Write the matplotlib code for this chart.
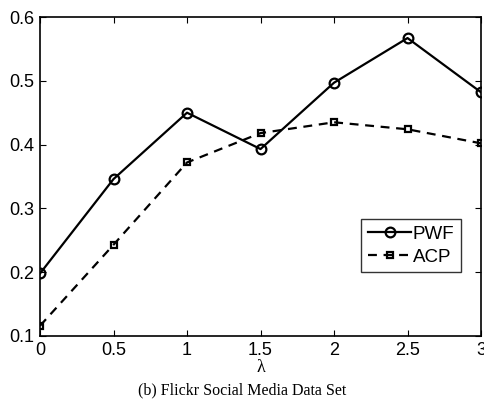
import matplotlib
matplotlib.use('Agg')
import matplotlib.pyplot as plt

lambdas = [0, 0.5, 1, 1.5, 2, 2.5, 3]
pwf = [0.198, 0.346, 0.450, 0.393, 0.497, 0.567, 0.482]
acp = [0.116, 0.243, 0.372, 0.418, 0.435, 0.424, 0.402]

xticks = [0, 0.5, 1, 1.5, 2, 2.5, 3]
xticklabels = ['0', '0.5', '1', '1.5', '2', '2.5', '3']
yticks = [0.1, 0.2, 0.3, 0.4, 0.5, 0.6]
yticklabels = ['0.1', '0.2', '0.3', '0.4', '0.5', '0.6']

plt.rcParams['font.family'] = ['Liberation Sans', 'DejaVu Sans']

fig = plt.figure(figsize=(4.85, 4.0), dpi=100)
ax = fig.add_axes([0.0825, 0.16, 0.9093, 0.7975])

ax.plot(lambdas, pwf, color='black', linestyle='-', linewidth=1.6,
        marker='o', markersize=7, markerfacecolor='none', markeredgewidth=1.6,
        label='PWF')
ax.plot(lambdas, acp, color='black', linestyle=(0, (4, 3)), linewidth=1.6,
        marker='s', markersize=5, markerfacecolor='none', markeredgewidth=1.6,
        label='ACP')

ax.set_xlim(0, 3)
ax.set_ylim(0.1, 0.6)
ax.set_xticks(xticks)
ax.set_xticklabels(xticklabels)
ax.set_yticks(yticks)
ax.set_yticklabels(yticklabels)
ax.tick_params(direction='in', top=True, right=True, labelsize=13, length=4,
               width=0.8, pad=4)
for sp in ax.spines.values():
    sp.set_linewidth(1.2)

ax.set_xlabel('λ', fontsize=13, family=['Liberation Serif', 'DejaVu Serif'],
              labelpad=0)

leg = ax.legend(loc='lower right', bbox_to_anchor=(0.955, 0.2), fontsize=13.5,
                frameon=True, fancybox=False, edgecolor='black',
                handlelength=2.3, handletextpad=0.1, borderpad=0.35,
                labelspacing=0.3, borderaxespad=0)
leg.get_frame().set_linewidth(1.0)

fig.text(0.5, 0.025, '(b) Flickr Social Media Data Set', ha='center',
         va='center', fontsize=11.5, family=['Liberation Serif', 'DejaVu Serif'])

fig.savefig('out.png', dpi=100)
